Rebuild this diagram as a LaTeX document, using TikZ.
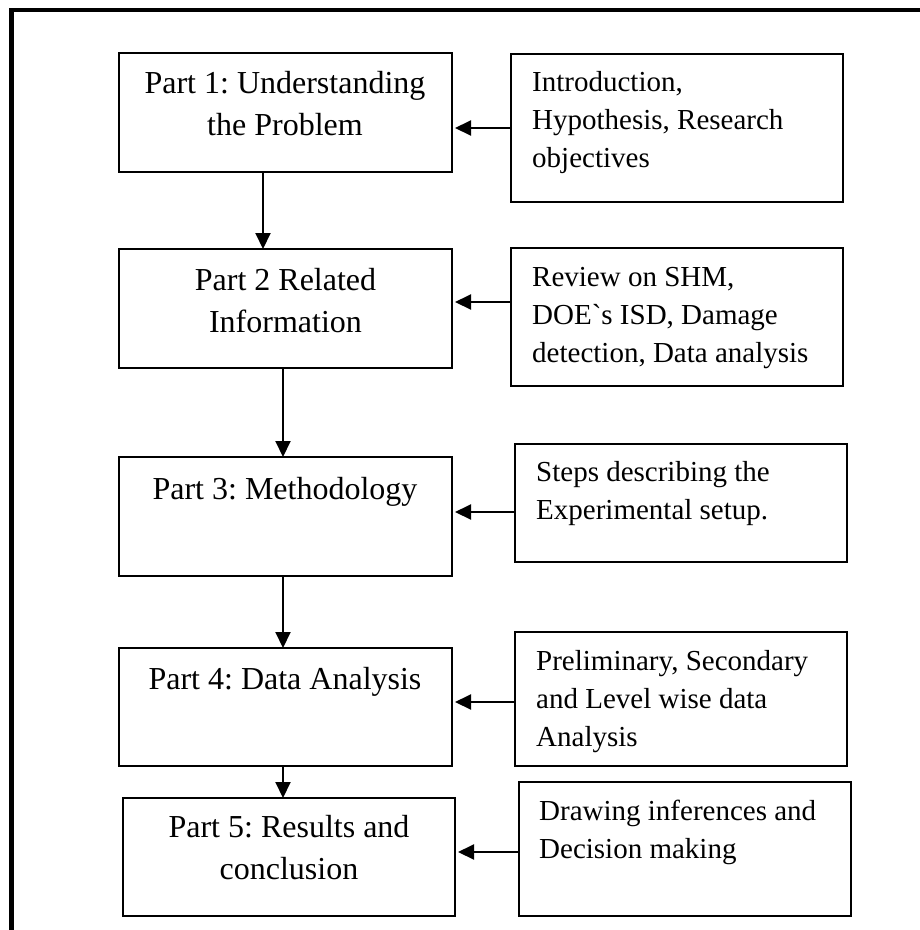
\documentclass[tikz,border=0pt]{standalone}
\usepackage{fontspec}
\setmainfont{Liberation Serif}
\usetikzlibrary{arrows.meta}
\frenchspacing
\begin{document}
\begin{tikzpicture}[x=1pt,y=-1pt,
  box/.style={draw, line width=2pt, inner sep=0pt, outer sep=0pt},
  lt/.style={font=\fontsize{32}{41.5}\selectfont, align=center, anchor=base, inner sep=0pt},
  rt/.style={font=\fontsize{29}{38}\selectfont, align=left, anchor=base west, inner sep=0pt},
  varr/.style={line width=2pt, -{Triangle[length=16pt,width=15pt]}},
  harr/.style={line width=2pt, -{Triangle[length=16pt,width=15pt]}, shorten >=3pt}]
\useasboundingbox (0,0) rectangle (920,930);
\draw[line width=4.5pt] (11.5,930) -- (11.5,10) -- (920,10);
% left boxes
\node[box, minimum width=333, minimum height=119] (p1) at (285.5,112.5) {};
\node[box, minimum width=333, minimum height=119] (p2) at (285.5,308.5) {};
\node[box, minimum width=333, minimum height=119] (p3) at (285.5,516.5) {};
\node[box, minimum width=333, minimum height=118] (p4) at (285.5,707) {};
\node[box, minimum width=332, minimum height=118] (p5) at (289,857) {};
% right boxes
\node[box, minimum width=332, minimum height=148] (r1) at (677,128) {};
\node[box, minimum width=332, minimum height=138] (r2) at (677,317) {};
\node[box, minimum width=332, minimum height=118] (r3) at (681,503) {};
\node[box, minimum width=332, minimum height=134] (r4) at (681,699) {};
\node[box, minimum width=332, minimum height=134] (r5) at (685,849) {};
% texts (base anchor = last line baseline)
\node[lt] (t1) at (285,135) {Part 1: Understanding\\the Problem};
\node[lt] (t2) at (285.5,332) {Part 2 Related\\Information};
\node[lt] (t3) at (285,499) {Part 3: Methodology};
\node[lt] (t4) at (285,689) {Part 4: Data Analysis};
\node[lt] (t5) at (289,879) {Part 5: Results and\\conclusion};
\node[rt] (s1) at (532,167) {Introduction,\\Hypothesis, Research\\objectives};
\node[rt] (s2) at (532,362) {Review on SHM,\\DOE\textasciigrave s ISD, Damage\\detection, Data analysis};
\node[rt] (s3) at (536,519) {Steps describing the\\Experimental setup.};
\node[rt] (s4) at (536,746) {Preliminary, Secondary\\and Level wise data\\Analysis};
\node[rt] (s5) at (539,858) {Drawing inferences and\\Decision making};
% vertical arrows
\draw[varr] ([xshift=-22.5pt]p1.south) -- ([xshift=-22.5pt]p1.south |- p2.north);
\draw[varr] ([xshift=-2.5pt]p2.south) -- ([xshift=-2.5pt]p2.south |- p3.north);
\draw[varr] ([xshift=-2.5pt]p3.south) -- ([xshift=-2.5pt]p3.south |- p4.north);
\draw[varr] ([xshift=-2.5pt]p4.south) -- ([xshift=-2.5pt]p4.south |- p5.north);
% horizontal arrows
\draw[harr] (r1.west) -- (r1.west -| p1.east);
\draw[harr] ([yshift=15pt]r2.west) -- ([yshift=15pt]r2.west -| p2.east);
\draw[harr] ([yshift=-9pt]r3.west) -- ([yshift=-9pt]r3.west -| p3.east);
\draw[harr] ([yshift=-3pt]r4.west) -- ([yshift=-3pt]r4.west -| p4.east);
\draw[harr] ([yshift=-3pt]r5.west) -- ([yshift=-3pt]r5.west -| p5.east);
\end{tikzpicture}
\end{document}
